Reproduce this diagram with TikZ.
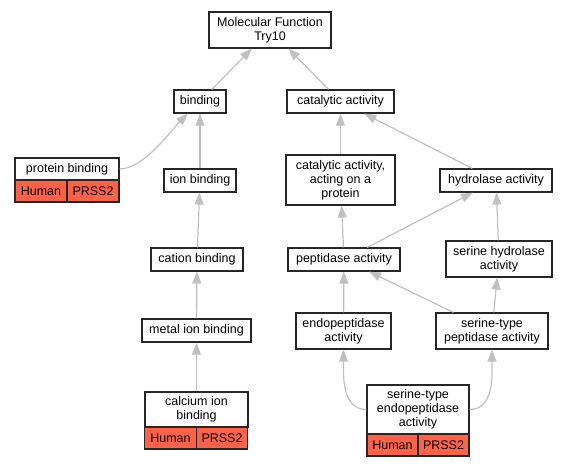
\documentclass[tikz,border=0pt]{standalone}
\usepackage{fontspec}
\setmainfont{Liberation Sans}
\usetikzlibrary{arrows.meta,positioning}
\definecolor{edgegray}{RGB}{192,192,192}
\definecolor{hitred}{RGB}{255,99,71}
\tikzset{
    >={Triangle[length=12pt,width=9pt]},
    term/.style={draw=black!85,line width=1.2pt,fill=white,inner sep=0pt,align=center,
        font=\fontsize{12.5}{14}\selectfont},
    hit/.style={term,fill=hitred,minimum height=22pt},
    isa/.style={->,draw=edgegray,line width=1.2pt}
}

\begin{document}
\begin{tikzpicture}[x=1pt,y=-1pt]
        \useasboundingbox (0,0) rectangle (568,467);

        % Terms
        \node[term,minimum width=122pt,minimum height=36pt] (mf) at (270,30) {Molecular Function\\Try10};
        \node[term,minimum width=52pt,minimum height=23pt] (bind) at (200,101.5) {binding};
        \node[term,minimum width=107pt,minimum height=23pt] (cat) at (340.5,101.5) {catalytic activity};
        \node[term,minimum width=104pt,minimum height=22pt] (pbind) at (67,169) {protein binding};
        \node[term,minimum width=72pt,minimum height=23pt] (ion) at (200,180.5) {ion binding};
        \node[term,minimum width=109pt,minimum height=50pt] (catprot) at (340.5,180) {catalytic activity,\\acting on a\\protein};
        \node[term,minimum width=112pt,minimum height=23pt] (hydro) at (496,180.5) {hydrolase activity};
        \node[term,minimum width=92pt,minimum height=23pt] (cation) at (197,259.5) {cation binding};
        \node[term,minimum width=112pt,minimum height=23pt] (pept) at (344,259.5) {peptidase activity};
        \node[term,minimum width=106pt,minimum height=36pt] (serhydro) at (499,259) {serine hydrolase\\activity};
        \node[term,minimum width=109pt,minimum height=23pt] (metal) at (196.5,330.5) {metal ion binding};
        \node[term,minimum width=95pt,minimum height=36pt] (endo) at (343.5,331) {endopeptidase\\activity};
        \node[term,minimum width=112pt,minimum height=36pt] (serpept) at (492,331) {serine-type\\peptidase activity};
        \node[term,minimum width=103pt,minimum height=35pt] (calc) at (196.5,409.5) {calcium ion\\binding};
        \node[term,minimum width=102pt,minimum height=49pt] (serendo) at (418,409.5) {serine-type\\endopeptidase\\activity};

        % Annotations
        \foreach \nm/\x/\y/\w in {
            pbind/41/191/52, calc/170.5/438/51.5, serendo/392.5/445/51
        } {
            \node[hit,minimum width=\w pt] (\nm-h) at (\x,\y) {Human};
            \node[hit,minimum width=\w pt,right=-1.2pt of \nm-h] (\nm-p) {PRSS2};
        }

        % Relations
        \draw[isa] (bind) -- (mf);
        \draw[isa] (cat) -- (mf);
        \draw[isa] (pbind.east) to[out=0,in=225,looseness=0.7] (bind);
        \draw[isa] (ion) -- (bind);
        \draw[isa] (cation) -- (ion);
        \draw[isa] (metal) -- (cation);
        \draw[isa] (calc) -- (metal);
        \draw[isa] (catprot) -- (cat);
        \draw[isa] (hydro) -- (cat);
        \draw[isa] (pept) -- (catprot);
        \draw[isa] (pept) -- (hydro);
        \draw[isa] (serhydro) -- (hydro);
        \draw[isa] (endo) -- (pept);
        \draw[isa] (serpept) -- (pept);
        \draw[isa] (serpept) -- (serhydro);
        \draw[isa] (serendo.west) to[out=180,in=-90] (endo);
        \draw[isa] (serendo.east) to[out=0,in=-90] (serpept);
\end{tikzpicture}
\end{document}
